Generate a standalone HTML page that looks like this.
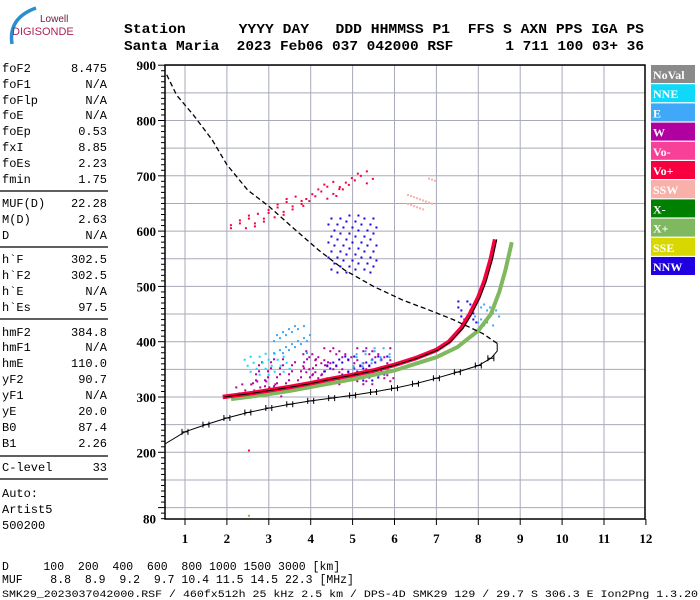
<!DOCTYPE html>
<html><head><meta charset="utf-8"><style>
html,body{margin:0;padding:0;background:#fff;}
svg{display:block;}
.mono{font-family:"Liberation Mono",monospace;}
.hdr{font-family:"Liberation Mono",monospace;font-weight:bold;font-size:13.5px;}
.ax{font-family:"Liberation Serif",serif;font-weight:bold;font-size:13px;}
.leg{font-family:"Liberation Serif",serif;font-weight:bold;font-size:12px;fill:#fff;}
</style></head><body>
<svg id="chart" width="700" height="600" viewBox="0 0 700 600" xmlns="http://www.w3.org/2000/svg">
  <g>
    <path d="M12,44 Q8,18 36,8" fill="none" stroke="#2a8fd0" stroke-width="3.5"/>
    <text x="40" y="22" font-family="Liberation Sans,sans-serif" font-size="10" fill="#6a2040">Lowell</text>
    <text x="12" y="35" font-family="Liberation Sans,sans-serif" font-size="11" fill="#b0205a">DIGISONDE</text>
  </g>
  <text class="hdr" x="124" y="33" textLength="520" lengthAdjust="spacingAndGlyphs" xml:space="preserve">Station      YYYY DAY   DDD HHMMSS P1  FFS S AXN PPS IGA PS</text>
  <text class="hdr" x="124" y="50" textLength="520" lengthAdjust="spacingAndGlyphs" xml:space="preserve">Santa Maria  2023 Feb06 037 042000 RSF      1 711 100 03+ 36</text>
  <g id="leftpanel"></g>
  <g id="grid"></g>
  <g id="marks"></g>
  <g id="axes"></g>
  <g id="legend"></g>
  <text class="mono" x="2" y="570" font-size="11.5" xml:space="preserve">D     100  200  400  600  800 1000 1500 3000 [km]</text>
  <text class="mono" x="2" y="583" font-size="11.5" xml:space="preserve">MUF    8.8  8.9  9.2  9.7 10.4 11.5 14.5 22.3 [MHz]</text>
  <text class="mono" x="2" y="597" font-size="10.5" textLength="696" lengthAdjust="spacingAndGlyphs">SMK29_2023037042000.RSF / 460fx512h 25 kHz 2.5 km / DPS-4D SMK29 129 / 29.7 S 306.3 E Ion2Png 1.3.20</text>
</svg>
<script>
// ---- data ----
const paramNames = ["foF2","foF1","foFlp","foE","foEp","fxI","foEs","fmin","MUF(D)","M(D)","D","h`F","h`F2","h`E","h`Es","hmF2","hmF1","hmE","yF2","yF1","yE","B0","B1","C-level"];
const paramValues = ["8.475","N/A","N/A","N/A","0.53","8.85","2.23","1.75","22.28","2.63","N/A","302.5","302.5","N/A","97.5","384.8","N/A","110.0","90.7","N/A","20.0","87.4","2.26","33"];
const xTicks = [1,2,3,4,5,6,7,8,9,10,11,12];
const yTicks = [900,800,700,600,500,400,300,200,80];
const legendNames = ["NoVal","NNE","E","W","Vo-","Vo+","SSW","X-","X+","SSE","NNW"];
const legendColors = ["#8a8a8a","#10d8f8","#40a8f8","#b000a0","#f84098","#f80040","#f8b0a8","#008000","#80b860","#d8d800","#2000e0"];
const oFreq = [1.9,2.2,2.6,3.0,3.5,4.0,4.5,5.0,5.5,6.0,6.5,7.0,7.3,7.6,7.8,8.0,8.15,8.3,8.4];
const oHeight = [300,303,307,312,318,325,333,340,348,358,370,385,400,425,450,480,510,550,585];
const xFreq = [2.1,2.5,3.0,3.5,4.0,4.5,5.0,5.5,6.0,6.5,7.0,7.5,8.0,8.3,8.5,8.65,8.8];
const xHeight = [296,300,305,311,318,325,332,340,348,360,372,390,420,450,490,530,580];
const profFreq = [0.52,1.0,1.5,2.0,2.5,3.0,3.5,4.0,4.5,5.0,5.5,6.0,6.5,7.0,7.5,8.0,8.3,8.45,8.45];
const profHeight = [215,237,250,262,272,280,287,293,298,303,309,316,324,334,345,357,370,383,397];
const mufFreq = [8.45,8.1,7.4,6.8,6.2,5.5,4.8,4.2,3.5,3.0,2.5,2.0,1.65,1.2,0.8,0.55];
const mufHeight = [397,415,440,458,475,500,530,565,611,645,674,720,765,810,846,885];
// scatter clouds: fmin,fmax,hmin,hmax,colorIndex
const cloudF0 = [2.0,2.9,3.8,4.6,6.3,2.2,2.6,3.8,4.3,2.4,3.1,5.0,4.4,7.5,7.9,2.0,2.0];
const cloudF1 = [3.0,3.9,4.7,5.5,7.0,3.3,4.4,6.0,6.0,3.5,4.0,6.0,5.6,8.0,8.5,2.6,2.6];
const cloudH0 = [608,630,655,680,640,300,320,320,330,340,380,345,525,430,430,200,83];
const cloudH1 = [630,660,685,705,690,330,370,390,375,380,430,390,630,480,480,205,87];
const cloudC = [5,5,5,5,6,3,3,3,10,1,2,2,10,10,2,5,8];

// ---- scales ----
const X0=165,X1=645,Y0=65,Y1=519;
function fx(f){return 185+(f-1)*41.9;}
function hy(h){return 397-(h-300)*0.553;}
const NS="http://www.w3.org/2000/svg";
function mk(tag,attrs,parent){const e=document.createElementNS(NS,tag);for(const k in attrs)e.setAttribute(k,attrs[k]);parent.appendChild(e);return e;}

// left panel
const lp=document.getElementById('leftpanel');
const rowsY=[68,84,100,115,131,147,163,179,203,219,235,259,275,291,307,332,347,363,379,395,411,427,443,467];
paramNames.forEach((n,i)=>{
  const t=mk('text',{x:2,y:rowsY[i]+4,'font-size':12,class:'mono'},lp);t.textContent=n;
  
  
  const v=mk('text',{x:107,y:rowsY[i]+4,'font-size':12,class:'mono','text-anchor':'end'},lp);v.textContent=paramValues[i];
  
  
});
[191,247,319,456,479].forEach(y=>{const l=mk('line',{x1:0,x2:108,y1:y,y2:y,stroke:'#000','stroke-width':1.3},lp);
  
  });
["Auto:","Artist5","500200"].forEach((s,i)=>{const t=mk('text',{x:2,y:497+i*16,'font-size':12,class:'mono'},lp);t.textContent=s;
  
  });

// grid
const g=document.getElementById('grid');
xTicks.forEach(f=>{if(f<12){const l=mk('line',{x1:fx(f),x2:fx(f),y1:Y0,y2:Y1,stroke:'#a8aab8','stroke-width':1},g);
  
  }});
for(let h=100;h<=900;h+=50){const l=mk('line',{x1:X0,x2:X1,y1:hy(h),y2:hy(h),stroke:'#a8aab8','stroke-width':1},g);
  
  }

// marks
const m=document.getElementById('marks');
function pts(F,H){return F.map((f,i)=>fx(f).toFixed(1)+','+hy(H[i]).toFixed(1)).join(' ');}
cloudF0.forEach((f0,c)=>{
  const grp=mk('g',{},m);
  
  
  const xa=fx(f0),xb=fx(cloudF1[c]),ya=hy(cloudH1[c]),yb=hy(cloudH0[c]);
  let k=0;
  for(let y=ya;y<=yb;y+=3){for(let x=xa;x<=xb;x+=3){k++;if((k*7)%11<2){
    const slope=(c<5)?(x-xa)/(xb-xa+1)*(yb-ya)*0.7:0;
    mk('rect',{x:x,y:y-slope+(yb-ya)*0.35*(c<5?1:0),width:2,height:2,fill:legendColors[cloudC[c]]},grp);}}}
});
const xl=mk('polyline',{points:pts(xFreq,xHeight),fill:'none',stroke:'#80b860','stroke-width':4},m);


const ol=mk('polyline',{points:pts(oFreq,oHeight),fill:'none',stroke:'#f80040','stroke-width':4.5},m);


const olb=mk('polyline',{points:pts(oFreq.map(f=>f+0.04),oHeight),fill:'none',stroke:'#000','stroke-width':1},m);


const pl=mk('polyline',{points:pts(profFreq,profHeight),fill:'none',stroke:'#000','stroke-width':1},m);


profFreq.slice(1,-2).forEach((f,i)=>{const x=fx(f),y=hy(profHeight[i+1]);
  const p=mk('path',{d:`M${x-3},${y-3}v6M${x+3},${y-3}v6M${x-3},${y}h6`,stroke:'#000','stroke-width':1,fill:'none'},m);
  
  });
const ml=mk('polyline',{points:pts(mufFreq,mufHeight),fill:'none',stroke:'#000','stroke-width':1.3,'stroke-dasharray':'5,3'},m);



// axes
const a=document.getElementById('axes');
const fr=mk('rect',{x:X0,y:Y0,width:X1-X0,height:Y1-Y0,fill:'none',stroke:'#000','stroke-width':1.5},a);


for(let h=80;h<=900;h+=10){const l=mk('line',{x1:X0-(h%100===0?7:4),x2:X0,y1:hy(h),y2:hy(h),stroke:'#000','stroke-width':1},a);
  
  }
yTicks.forEach(h=>{const t=mk('text',{x:X0-9,y:hy(h)+5,class:'ax','text-anchor':'end'},a);t.textContent=h;
  
  });
xTicks.forEach(f=>{const l=mk('line',{x1:fx(f),x2:fx(f),y1:Y1,y2:Y1+6,stroke:'#000'},a);
  
  
  const t=mk('text',{x:fx(f),y:Y1+24,class:'ax','text-anchor':'middle'},a);t.textContent=f;
  
  });

// legend
const lg=document.getElementById('legend');
legendNames.forEach((n,i)=>{const y=65+i*19.2;
  const r=mk('rect',{x:651,y:y,width:44,height:18,fill:legendColors[i]},lg);
  
  
  const t=mk('text',{x:653,y:y+14,class:'leg'},lg);t.textContent=n;
  
  });
</script>
</body></html>
